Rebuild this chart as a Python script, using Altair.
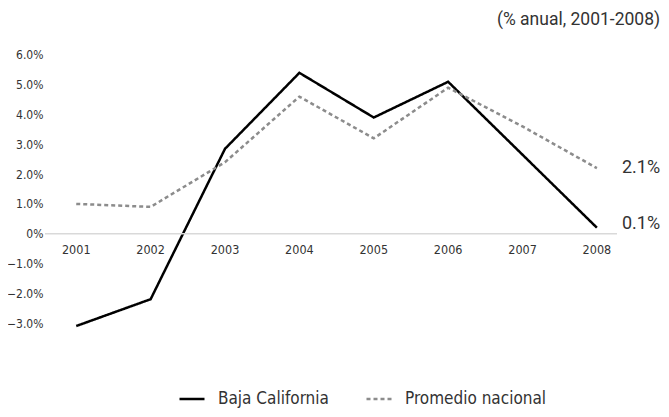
import altair as alt
import pandas as pd

years = [2001, 2002, 2003, 2004, 2005, 2006, 2007, 2008]
baja = [-3.1, -2.2, 2.85, 5.4, 3.9, 5.1, 2.65, 0.2]
promedio = [1.0, 0.9, 2.4, 4.6, 3.2, 4.9, 3.6, 2.2]
series_names = ["Baja California", "Promedio nacional"]
end_labels = ["0.1%", "2.1%"]
subtitle = "(% anual, 2001-2008)"
y_ticks = [-3, -2, -1, 0, 1, 2, 3, 4, 5, 6]

FONT = "DejaVu Sans Condensed, Roboto, sans-serif"
FONT2 = "Roboto, sans-serif"
TXT = "#333333"

rows = []
for y, b, p in zip(years, baja, promedio):
    rows.append({"year": y, "serie": series_names[0], "value": b})
    rows.append({"year": y, "serie": series_names[1], "value": p})
df = pd.DataFrame(rows)

end_df = pd.DataFrame({
    "year": [years[-1], years[-1]],
    "value": [baja[-1], promedio[-1]],
    "label": end_labels,
    "serie": series_names,
})
year_df = pd.DataFrame({"year": years, "value": [0] * len(years)})

xscale = alt.Scale(domain=[2000.58, 2008.27])
yscale = alt.Scale(domain=[-3.2, 6.2], nice=False)

yaxis = alt.Axis(values=y_ticks,
                 labelExpr="datum.value == 0 ? '0%' : format(datum.value, '.1f') + '%'",
                 domain=False, ticks=False, grid=False, labelOverlap=False,
                 labelPadding=2, labelFontSize=12, labelFont=FONT, labelColor=TXT)

legend = alt.Legend(title=None, orient="none", direction="horizontal",
                    legendX=133, legendY=336,
                    symbolType="stroke", symbolSize=625, symbolStrokeWidth=2.5,
                    labelFont=FONT, labelFontSize=17, labelColor=TXT,
                    labelOffset=12, columnPadding=32)

lines = alt.Chart(df).mark_line(strokeWidth=2.5).encode(
    x=alt.X("year:Q", scale=xscale, axis=None),
    y=alt.Y("value:Q", scale=yscale, title=None, axis=yaxis),
    color=alt.Color("serie:N", scale=alt.Scale(domain=series_names, range=["#000000", "#8c8c8c"]),
                    legend=legend),
    strokeDash=alt.StrokeDash("serie:N", scale=alt.Scale(domain=series_names, range=[[1, 0], [4, 3]]),
                              legend=legend),
)

zero = alt.Chart(pd.DataFrame({"value": [0]})).mark_rule(color="#d9d9d9", strokeWidth=1.5).encode(
    y=alt.Y("value:Q", scale=yscale, title=None, axis=yaxis)
)

year_labels = alt.Chart(year_df).mark_text(font=FONT, fontSize=12.5, color=TXT, dy=16, baseline="middle").encode(
    x=alt.X("year:Q", scale=xscale, axis=None),
    y=alt.Y("value:Q", scale=yscale, title=None, axis=yaxis),
    text=alt.Text("year:N"),
)

lab_top = alt.Chart(end_df).transform_filter(alt.datum.serie == series_names[1]).mark_text(
    font=FONT2, fontSize=18, color=TXT, align="left", baseline="middle", dx=25, dy=0
).encode(x=alt.X("year:Q", scale=xscale, axis=None),
         y=alt.Y("value:Q", scale=yscale, title=None, axis=yaxis), text="label:N")

lab_bot = alt.Chart(end_df).transform_filter(alt.datum.serie == series_names[0]).mark_text(
    font=FONT2, fontSize=18, color=TXT, align="left", baseline="middle", dx=25, dy=-4
).encode(x=alt.X("year:Q", scale=xscale, axis=None),
         y=alt.Y("value:Q", scale=yscale, title=None, axis=yaxis), text="label:N")

chart = alt.layer(lines, zero, year_labels, lab_top, lab_bot).properties(
    width=572, height=280,
    autosize=alt.AutoSizeParams(type="none"),
    padding={"left": 37, "top": 41, "right": 44, "bottom": 80},
    title=alt.TitleParams(subtitle, anchor="end", frame="bounds", font=FONT2, fontSize=17.5,
                          fontWeight="normal", color=TXT, offset=20),
).configure_view(stroke=None)

chart.save("out.html", embed_options={"renderer": "svg", "actions": False})
